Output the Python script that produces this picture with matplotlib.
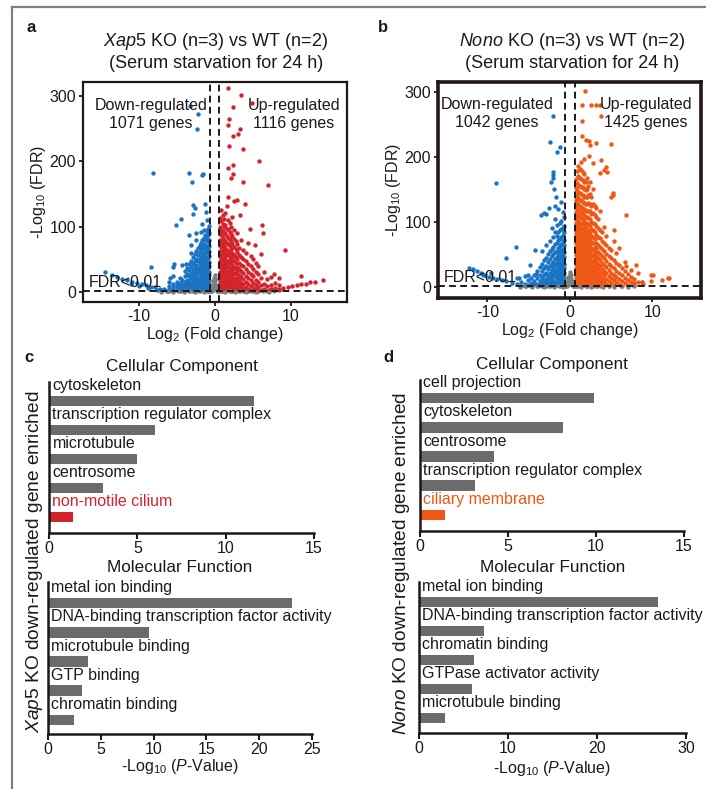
import matplotlib
matplotlib.use("Agg")
import matplotlib.pyplot as plt
import matplotlib.transforms as mtransforms
from matplotlib.lines import Line2D

plt.rcParams.update({
    "font.family": "Liberation Sans",
    "font.size": 11.5,
    "axes.unicode_minus": False,
    "mathtext.fontset": "custom",
    "mathtext.rm": "Liberation Sans",
    "mathtext.it": "Liberation Sans:italic",
    "mathtext.bf": "Liberation Sans:bold",
    "text.color": "#1a1a1a",
    "axes.labelcolor": "#1a1a1a",
    "xtick.color": "#1a1a1a",
    "ytick.color": "#1a1a1a",
})

# ---------------- Volcano data ----------------
# Panel a: Xap5 KO vs WT
a_down_pts = [(-3.3, 285), (-2.2, 272), (-2.3, 249), (-8.1, 182), (-3.4, 182), (-3.0, 168),
              (-1.7, 179), (-1.5, 181), (-2.8, 133), (-2.6, 128), (-1.2, 135), (-1.1, 123),
              (-2.8, 120), (-4.4, 112), (-5.1, 102), (-3.4, 87), (-2.4, 90), (-1.7, 104),
              (-3.1, 72), (-3.8, 43), (-5.4, 43), (-5.5, 39), (-8.4, 38), (-5.9, 21),
              (-14.4, 31), (-13.5, 26), (-12.8, 23), (-12.2, 20), (-11.5, 18), (-10.8, 16),
              (-10.2, 14), (-9.6, 12), (-9.0, 10), (-8.4, 8), (-7.8, 7), (-7.2, 5), (-6.6, 4),
              (-11.0, 13), (-9.9, 9), (-8.8, 6), (-7.6, 3), (-6.9, 2), (-6.2, 1)]
a_down_col_x = [-0.68, -0.86, -1.05, -1.22, -1.41, -1.6, -1.78, -1.97, -2.18, -2.4, -2.62,
                -2.85, -3.1, -3.35, -3.62, -3.9, -4.25, -4.6, -5.0, -5.45, -5.95]
a_down_col_y = [[1, 6, 13, 18, 26, 31, 40, 46, 55, 62, 71, 79, 90, 101],
                [3, 9, 15, 22, 28, 36, 43, 52, 59, 68, 76, 87, 97],
                [2, 7, 11, 19, 24, 33, 38, 47, 54, 63, 70, 82, 93, 110],
                [4, 10, 16, 21, 29, 35, 44, 50, 60, 67, 79, 88],
                [1, 5, 12, 18, 25, 30, 39, 45, 55, 62, 74, 83, 95],
                [3, 8, 14, 20, 27, 35, 41, 51, 58, 69, 80],
                [5, 11, 16, 24, 30, 38, 47, 54, 66, 75, 92],
                [1, 7, 13, 19, 27, 33, 43, 50, 61, 72],
                [4, 9, 16, 22, 30, 37, 47, 56, 67],
                [2, 6, 12, 18, 26, 33, 42, 51, 63, 80],
                [4, 9, 15, 21, 30, 37, 48, 58],
                [1, 7, 11, 18, 26, 33, 43, 53],
                [3, 8, 14, 21, 29, 38, 48, 60],
                [2, 6, 12, 17, 25, 34, 43],
                [4, 9, 15, 19, 28, 36],
                [1, 7, 11, 16, 24, 32],
                [3, 6, 12, 19, 41],
                [2, 5, 9, 14, 22],
                [3, 7, 10, 16],
                [1, 5, 8, 12, 25],
                [2, 4, 9, 15]]

a_up_pts = [(3.5, 302), (2.4, 283), (4.9, 290), (1.7, 312), (1.9, 265), (1.8, 255), (3.4, 250),
            (3.1, 242), (2.4, 239), (1.9, 224), (3.7, 219), (5.8, 201), (2.4, 194), (1.8, 190),
            (2.4, 181), (2.1, 174), (3.7, 168), (7.0, 163), (1.7, 146), (2.6, 140), (3.0, 141),
            (4.0, 135), (6.2, 102), (6.3, 90), (9.2, 65), (11.3, 24), (14.3, 19), (12.6, 15),
            (7.8, 27), (8.4, 21), (7.2, 3), (7.8, 4), (8.4, 5), (9.0, 6), (9.6, 8), (10.2, 9),
            (10.8, 10), (11.4, 12), (12.0, 13), (13.2, 16), (5.3, 72), (4.6, 96), (3.3, 118)]
a_up_col_x = [0.68, 0.86, 1.04, 1.22, 1.4, 1.58, 1.77, 1.96, 2.15, 2.35, 2.56, 2.78, 3.0,
              3.24, 3.5, 3.78, 4.08, 4.4, 4.72, 5.05, 5.4, 5.75, 6.12, 6.5, 6.9, 7.35, 7.9, 8.5]
a_up_col_y = [[1, 5, 12, 17, 25, 31, 40, 47, 56, 63, 72, 79, 90, 99, 113],
              [3, 8, 14, 22, 28, 37, 43, 52, 59, 69, 76, 87, 95, 108, 126],
              [2, 7, 11, 19, 26, 33, 42, 49, 58, 65, 75, 83, 94, 104, 118],
              [4, 10, 16, 23, 30, 38, 45, 54, 61, 71, 78, 89, 99, 111],
              [1, 6, 13, 20, 27, 35, 43, 51, 60, 68, 78, 90, 102, 121],
              [3, 9, 15, 24, 31, 40, 48, 57, 65, 75, 86, 97, 131],
              [5, 11, 17, 23, 30, 38, 46, 56, 63, 73, 82, 96, 110],
              [2, 7, 14, 20, 28, 35, 44, 51, 61, 70, 81, 92, 105],
              [4, 9, 16, 22, 31, 37, 47, 55, 66, 76, 89, 100],
              [1, 6, 12, 19, 26, 34, 41, 52, 60, 73, 85, 115],
              [3, 9, 14, 22, 29, 39, 48, 57, 69, 81, 95],
              [2, 5, 12, 18, 27, 35, 45, 54, 66, 78],
              [4, 8, 15, 21, 31, 39, 50, 61, 74, 90],
              [1, 6, 11, 19, 26, 35, 45, 57, 68],
              [3, 9, 14, 23, 32, 42, 54, 80],
              [2, 6, 12, 20, 29, 40, 51, 65],
              [4, 8, 16, 25, 35, 47, 60],
              [1, 5, 12, 21, 31, 43, 75],
              [3, 9, 18, 28, 40, 55],
              [2, 6, 14, 24, 35, 50],
              [4, 10, 19, 31, 45],
              [1, 7, 15, 27, 40],
              [3, 11, 22, 58],
              [5, 13, 30],
              [2, 9, 20],
              [4, 11, 23],
              [6, 14],
              [3, 10]]

a_ns_pts = [(-0.5, 2), (-0.4, 4), (-0.3, 7), (-0.2, 10), (-0.1, 14), (0.0, 18), (0.1, 13),
            (0.2, 9), (0.3, 6), (0.4, 3), (0.5, 1), (-0.45, 1), (-0.35, 2), (-0.25, 3),
            (-0.15, 5), (-0.05, 8), (0.05, 11), (0.15, 6), (0.25, 4), (0.35, 2), (0.45, 1),
            (-0.05, 22), (0.05, 26), (0.0, 12), (-0.2, 17), (0.15, 20),
            (-7.0, 0.5), (-6.2, 1.0), (-5.5, 0.3), (-4.8, 0.8), (-4.0, 0.4), (-3.3, 1.2),
            (-2.6, 0.6), (-2.0, 1.0), (-1.4, 0.5), (-0.8, 1.3), (0.8, 1.0), (1.4, 0.4),
            (2.0, 1.2), (2.7, 0.6), (3.4, 1.0), (4.1, 0.3), (4.8, 0.9), (5.5, 0.5),
            (6.3, 1.1), (7.1, 0.4), (7.8, 0.8)]

# Panel b: Nono KO vs WT
b_down_pts = [(-2.0, 262), (-2.4, 223), (-1.2, 215), (-1.6, 207), (-2.1, 177), (-2.1, 172),
              (-2.0, 167), (-9.0, 160), (-2.3, 162), (-1.9, 150), (-1.7, 139), (-1.8, 125),
              (-2.5, 121), (-3.5, 110), (-2.9, 112), (-3.1, 113), (-6.5, 61), (-4.2, 57),
              (-7.8, 44), (-4.9, 33), (-5.1, 18), (-4.1, 20), (-6.2, 14),
              (-7.7, 9), (-8.2, 11), (-8.8, 12), (-9.3, 14), (-9.8, 16), (-10.3, 18),
              (-10.6, 19), (-10.8, 22), (-11.3, 24), (-11.8, 27), (-12.2, 29), (-9.6, 21)]
b_down_col_x = [-0.68, -0.86, -1.05, -1.23, -1.42, -1.61, -1.8, -2.0, -2.21, -2.43, -2.65,
                -2.88, -3.12, -3.38, -3.66, -3.95, -4.3, -4.7, -5.1, -5.5, -5.95, -6.45, -7.0]
b_down_col_y = [[1, 7, 14, 21, 29, 36, 46, 53, 64, 72, 85, 94, 108],
                [4, 10, 17, 24, 33, 41, 50, 59, 69, 80, 91, 115],
                [2, 8, 15, 23, 30, 39, 48, 57, 66, 77, 89, 101, 130],
                [5, 12, 19, 27, 35, 44, 53, 63, 74, 87, 99],
                [3, 9, 16, 25, 32, 41, 51, 60, 72, 85, 120],
                [6, 13, 20, 28, 37, 46, 56, 67, 79, 95],
                [2, 8, 17, 24, 33, 43, 54, 66, 84, 105],
                [5, 11, 20, 29, 38, 50, 62, 77],
                [3, 9, 17, 26, 36, 47, 59, 90],
                [1, 6, 13, 22, 32, 43, 55, 70],
                [4, 9, 17, 27, 38, 51],
                [2, 7, 12, 21, 32, 45, 64],
                [4, 9, 18, 29, 41],
                [1, 6, 14, 24, 36, 55],
                [3, 9, 19, 31],
                [2, 5, 13, 25],
                [4, 9, 19],
                [2, 6, 14],
                [3, 10],
                [1, 5, 17],
                [2, 8],
                [4, 13],
                [6]]

b_up_pts = [(1.8, 301), (1.5, 280), (2.5, 280), (3.2, 279), (3.6, 279), (3.8, 263), (1.5, 255),
            (1.5, 232), (2.0, 226), (2.3, 224), (2.4, 218), (3.2, 222), (5.0, 219), (2.3, 201),
            (3.8, 195), (2.8, 190), (4.4, 185), (4.1, 180), (4.5, 176), (3.6, 175), (5.2, 145),
            (5.0, 139), (5.2, 141), (6.8, 110), (5.4, 88), (6.0, 60), (8.0, 34), (6.8, 32),
            (9.8, 18), (10.1, 18), (12.0, 14), (11.9, 13), (11.2, 11), (9.8, 9), (8.8, 8),
            (8.8, 7), (7.8, 6)]
b_up_col_x = [0.68, 0.85, 1.02, 1.2, 1.37, 1.55, 1.72, 1.9, 2.08, 2.25, 2.43, 2.6, 2.8,
              3.0, 3.2, 3.42, 3.65, 3.9, 4.15, 4.4, 4.7, 5.0, 5.3, 5.6, 5.95, 6.3, 6.65,
              7.0, 7.4, 7.8, 8.3, 8.9]
b_up_col_y = [[1, 5, 11, 16, 23, 29, 36, 41, 49, 55, 61, 68, 76, 83, 90, 98, 107, 115, 124, 133, 141, 152, 166],
              [3, 8, 14, 19, 26, 33, 38, 45, 52, 58, 66, 72, 80, 87, 95, 103, 111, 120, 129, 138, 149, 160, 178],
              [2, 6, 12, 18, 24, 30, 37, 43, 50, 57, 63, 71, 78, 86, 93, 101, 110, 118, 127, 136, 146, 157, 171, 186],
              [4, 9, 15, 21, 28, 34, 41, 47, 54, 61, 68, 75, 83, 91, 99, 107, 116, 125, 134, 144, 155, 168, 182],
              [1, 7, 13, 19, 25, 32, 38, 45, 52, 59, 66, 73, 81, 89, 97, 106, 114, 123, 133, 143, 154, 166, 179, 192],
              [3, 10, 16, 23, 29, 36, 43, 50, 57, 64, 71, 79, 87, 96, 104, 113, 122, 131, 142, 153, 165, 177],
              [5, 11, 17, 24, 31, 38, 46, 53, 60, 68, 76, 84, 92, 101, 110, 119, 129, 139, 150, 162, 174, 196],
              [2, 8, 14, 21, 28, 35, 42, 49, 57, 65, 73, 81, 90, 99, 108, 118, 128, 138, 149, 161],
              [4, 10, 17, 24, 31, 39, 46, 54, 62, 70, 79, 88, 97, 107, 117, 127, 138, 150, 168],
              [1, 7, 13, 20, 27, 35, 43, 51, 59, 68, 77, 86, 96, 106, 117, 129, 141, 155],
              [3, 9, 16, 23, 31, 38, 47, 55, 64, 73, 83, 93, 104, 116, 128, 143, 162],
              [6, 12, 19, 27, 34, 42, 51, 60, 69, 79, 89, 100, 112, 125, 139],
              [2, 9, 15, 23, 30, 39, 48, 57, 67, 77, 88, 99, 113, 128, 150],
              [4, 11, 18, 26, 34, 43, 52, 62, 73, 84, 96, 110, 124],
              [1, 7, 14, 22, 30, 38, 48, 58, 68, 80, 93, 107, 121],
              [5, 11, 19, 27, 35, 44, 54, 65, 77, 90, 105],
              [2, 8, 15, 23, 32, 41, 51, 62, 75, 88, 117],
              [6, 12, 20, 28, 37, 47, 58, 70, 84],
              [3, 9, 17, 25, 34, 44, 56, 68, 92],
              [5, 12, 21, 30, 40, 51, 64, 78],
              [2, 9, 17, 26, 36, 48, 60],
              [6, 13, 22, 32, 44, 57],
              [3, 10, 19, 29, 41, 70],
              [7, 15, 25, 37, 52],
              [4, 12, 21, 33],
              [2, 9, 18, 29],
              [6, 14, 24, 38],
              [3, 11, 20],
              [7, 16, 26],
              [4, 12],
              [8, 21],
              [5]]

b_ns_pts = [(-0.5, 2), (-0.4, 4), (-0.3, 7), (-0.2, 10), (-0.1, 14), (0.0, 17), (0.1, 12),
            (0.2, 9), (0.3, 6), (0.4, 3), (0.5, 1), (-0.45, 1), (-0.35, 2), (-0.25, 3),
            (-0.15, 5), (-0.05, 8), (0.05, 11), (0.15, 6), (0.25, 4), (0.35, 2), (0.45, 1),
            (-0.05, 20), (0.05, 23), (0.0, 12), (-0.2, 16), (0.15, 18),
            (-6.0, 0.5), (-5.3, 1.0), (-4.6, 0.3), (-3.9, 0.8), (-3.2, 0.4), (-2.5, 1.2),
            (-1.9, 0.6), (-1.3, 1.0), (-0.8, 0.5), (0.8, 1.0), (1.3, 0.4), (1.9, 1.2),
            (2.6, 0.6), (3.3, 1.0), (4.0, 0.3), (4.7, 0.9), (5.4, 0.5), (6.2, 1.1),
            (7.0, 0.4), (7.8, 0.8)]

# ---------------- GO enrichment data ----------------
c_cc_terms = ["cytoskeleton", "transcription regulator complex", "microtubule",
              "centrosome", "non-motile cilium"]
c_cc_vals = [11.6, 6.0, 5.0, 3.05, 1.35]
c_mf_terms = ["metal ion binding", "DNA-binding transcription factor activity",
              "microtubule binding", "GTP binding", "chromatin binding"]
c_mf_vals = [23.1, 9.6, 3.8, 3.2, 2.5]
d_cc_terms = ["cell projection", "cytoskeleton", "centrosome",
              "transcription regulator complex", "ciliary membrane"]
d_cc_vals = [9.9, 8.1, 4.2, 3.1, 1.4]
d_mf_terms = ["metal ion binding", "DNA-binding transcription factor activity",
              "chromatin binding", "GTPase activator activity", "microtubule binding"]
d_mf_vals = [26.8, 7.3, 6.2, 6.0, 2.9]

BLUE = "#1a74c3"
RED = "#d3232b"
ORANGE = "#ee5714"
GREY = "#7f7f7f"
BARGREY = "#6b6b6b"
DARK = "#1a1a1a"

W, H = 706, 789
fig = plt.figure(figsize=(W / 100, H / 100), dpi=100)


def rect(left, top, right, bottom):
    return [left / W, 1 - bottom / H, (right - left) / W, (bottom - top) / H]


def flatten(pts, col_x, col_y):
    xs = [p[0] for p in pts]
    ys = [p[1] for p in pts]
    for x, yl in zip(col_x, col_y):
        xs += [x] * len(yl)
        ys += list(yl)
    return xs, ys


def volcano(r, xlim, ylim, down, up, ns, upc, frame_lw, frame_c, dtxt, utxt, ntxt):
    ax = fig.add_axes(r)
    dx, dy = down
    ux, uy = up
    ax.scatter(dx, dy, s=10, color=BLUE, linewidths=0, zorder=2)
    ax.scatter(ux, uy, s=10, color=upc, linewidths=0, zorder=2)
    ax.scatter([p[0] for p in ns], [p[1] for p in ns], s=10, color=GREY, linewidths=0, zorder=3)
    ax.set_xlim(*xlim)
    ax.set_ylim(*ylim)
    dash = dict(color=DARK, lw=1.4, dashes=(3.5, 2.2), zorder=4)
    ax.axhline(2, **dash)
    ax.axvline(-0.585, **dash)
    ax.axvline(0.585, **dash)
    for s in ax.spines.values():
        s.set_linewidth(frame_lw)
        s.set_color(frame_c)
    ax.set_xticks([-10, 0, 10])
    ax.set_yticks([0, 100, 200, 300])
    ax.tick_params(length=3, width=1.3, pad=2, labelsize=11.5)
    ax.set_xlabel(r"Log$_2$ (Fold change)", fontsize=11.5, labelpad=1)
    ax.set_ylabel(r"-Log$_{10}$ (FDR)", fontsize=11.5, labelpad=1)
    ax.text(dtxt[0], dtxt[1], "Down-regulated\n%s genes" % ntxt[0], ha="center", va="center",
            fontsize=11.5, linespacing=1.25, zorder=5)
    ax.text(utxt[0], utxt[1], "Up-regulated\n%s genes" % ntxt[1], ha="center", va="center",
            fontsize=11.5, linespacing=1.25, zorder=5)
    ax.text(xlim[0] + 0.7, 14, "FDR<0.01", ha="left", va="center", fontsize=11.5, zorder=5)
    return ax


volcano(rect(83, 82, 347, 302), (-17.3, 17.4), (-15.3, 321.4),
        flatten(a_down_pts, a_down_col_x, a_down_col_y),
        flatten(a_up_pts, a_up_col_x, a_up_col_y), a_ns_pts, RED, 1.6, DARK,
        (-8.4, 271), (10.4, 271), ("1071", "1116"))
volcano(rect(438, 82, 701, 298), (-16.0, 15.9), (-17, 315),
        flatten(b_down_pts, b_down_col_x, b_down_col_y),
        flatten(b_up_pts, b_up_col_x, b_up_col_y), b_ns_pts, ORANGE, 2.6, "#231815",
        (-8.85, 267), (9.25, 267), ("1042", "1425"))

# titles of volcano panels
fig.text(216 / W, 1 - 42 / H, r"$\it{Xap5}$ KO (n=3) vs WT (n=2)", ha="center", va="center", fontsize=13)
fig.text(216 / W, 1 - 64 / H, "(Serum starvation for 24 h)", ha="center", va="center", fontsize=13)
fig.text(572 / W, 1 - 42 / H, r"$\it{Nono}$ KO (n=3) vs WT (n=2)", ha="center", va="center", fontsize=13)
fig.text(572 / W, 1 - 63 / H, "(Serum starvation for 24 h)", ha="center", va="center", fontsize=13)


def bars(r, terms, vals, hl_color, xlim, xticks, ylim, title, title_off, xlabel_off=None):
    ax = fig.add_axes(r)
    ypos = list(range(len(terms)))
    bar_hl = hl_color if hl_color is not None else BARGREY
    colors = [BARGREY] * (len(terms) - 1) + [bar_hl]
    ax.barh(ypos, vals, height=0.36, color=colors, zorder=2)
    ax.set_xlim(*xlim)
    ax.set_ylim(*ylim)
    ax.set_xticks(xticks)
    ax.set_yticks([])
    for s in ["top", "right"]:
        ax.spines[s].set_visible(False)
    for s in ["left", "bottom"]:
        ax.spines[s].set_linewidth(1.8)
        ax.spines[s].set_color(DARK)
    ax.tick_params(axis="x", length=4, width=1.5, pad=1.5, labelsize=11.5)
    trans = mtransforms.blended_transform_factory(ax.transAxes, ax.transData)
    for i, t in enumerate(terms):
        c = hl_color if (i == len(terms) - 1 and hl_color is not None) else DARK
        ax.text(0.013, i - 0.53, t, transform=trans, ha="left", va="center", fontsize=11.5, color=c)
    hpx = r[3] * H
    ax.text(0.5, 1 + title_off / hpx, title, transform=ax.transAxes, ha="center", va="center",
            fontsize=12.3)
    if xlabel_off is not None:
        ax.text(0.5, -xlabel_off / hpx, r"-Log$_{10}$ ($\it{P}$-Value)", transform=ax.transAxes,
                ha="center", va="center", fontsize=11.5)
    return ax


bars(rect(49, 382, 314, 533), c_cc_terms, c_cc_vals, RED, (0, 15), [0, 5, 10, 15],
     (4.55, -0.655), "Cellular Component", 15)
bars(rect(48, 582, 312, 734), c_mf_terms, c_mf_vals, None, (0, 25), [0, 5, 10, 15, 20, 25],
     (4.48, -0.72), "Molecular Function", 14, 33)
bars(rect(420, 380, 684, 531), d_cc_terms, d_cc_vals, ORANGE, (0, 15), [0, 5, 10, 15],
     (4.55, -0.62), "Cellular Component", 15)
bars(rect(419, 582, 686, 733), d_mf_terms, d_mf_vals, None, (0, 30), [0, 10, 20, 30],
     (4.52, -0.69), "Molecular Function", 15, 35)

fig.text(35 / W, 1 - 562 / H, r"$\it{Xap5}$ KO down-regulated gene enriched", rotation=90,
         ha="center", va="center", fontsize=13.8)
fig.text(401 / W, 1 - 563 / H, r"$\it{Nono}$ KO down-regulated gene enriched", rotation=90,
         ha="center", va="center", fontsize=13.8)

# panel letters
for letter, (px, py) in {"a": (31, 28), "b": (383, 28), "c": (29, 358), "d": (388, 357)}.items():
    fig.text(px / W, 1 - py / H, letter, ha="center", va="center", fontsize=12, fontweight="bold")

# light grey page frame
fig.add_artist(Line2D([12 / W, 12 / W], [0, 1 - 7 / H], transform=fig.transFigure,
                      color="#808080", lw=1.6))
fig.add_artist(Line2D([12 / W, 1], [1 - 7 / H, 1 - 7 / H], transform=fig.transFigure,
                      color="#808080", lw=1.6))

fig.savefig("out.png", dpi=100)
